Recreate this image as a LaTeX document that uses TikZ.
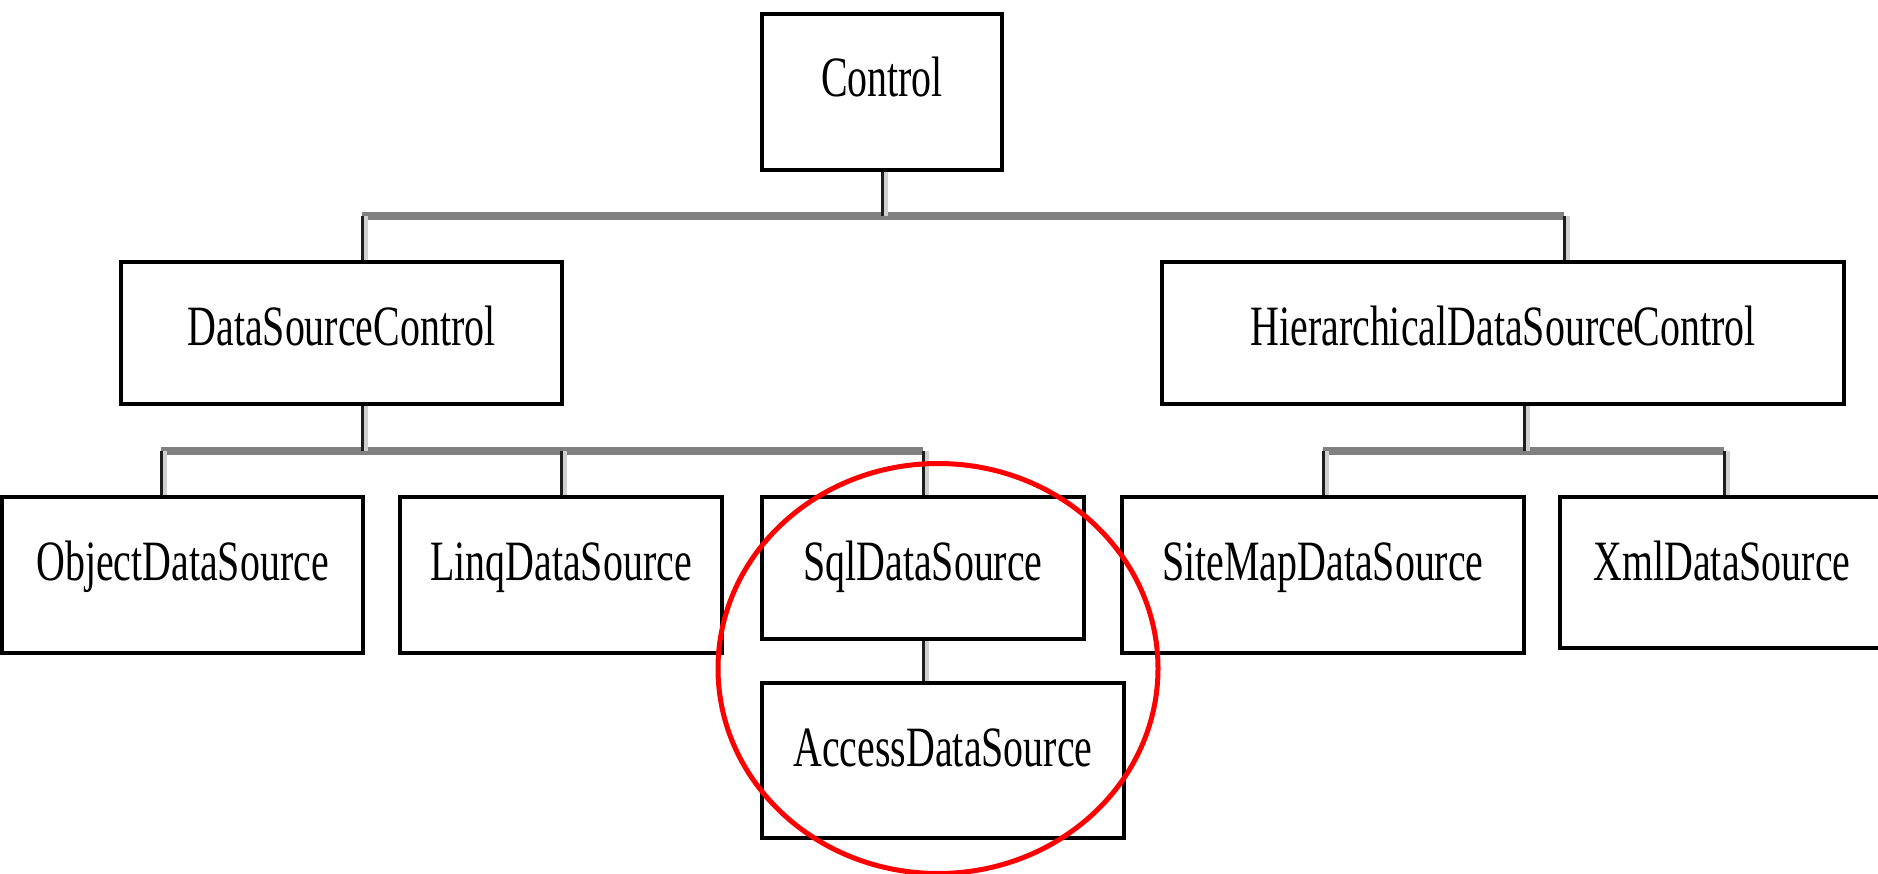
\documentclass[tikz,border=0pt]{standalone}
\usepackage{fontspec}
\setmainfont[FakeStretch=0.7]{Liberation Serif}
\definecolor{bargray}{HTML}{808080}
\definecolor{dropdark}{HTML}{1E1E1E}
\definecolor{dropshade}{HTML}{D0D0D0}
\tikzset{
  box/.style 2 args={draw, line width=4pt, fill=white, inner sep=0pt,
    font=\fontsize{57}{60}\selectfont, text height=38pt,
    minimum width=#1pt, minimum height=#2pt, text depth=#2pt-128pt},
  bar/.style={draw=bargray, line width=8pt},
  drop/.style={draw=dropdark, line width=3pt,
    preaction={draw=dropshade, line width=4pt, transform canvas={xshift=3.5pt}}},
  ring/.style={draw=red, line width=5pt}
}
\begin{document}
\begin{tikzpicture}[x=1pt, y=-1pt]
\useasboundingbox (0,0) rectangle (1878,874);
% class boxes
\node[box={240}{156}] (ctrl) at (882, 92) {Control};
\node[box={441}{142}] (dsc) at (341.5, 333) {DataSourceControl};
\node[box={682}{142}] (hdsc) at (1503, 333) {HierarchicalDataSourceControl};
\node[box={361}{156}] (ods) at (182.5, 575) {ObjectDataSource};
\node[box={322}{156}] (lds) at (561, 575) {LinqDataSource};
\node[box={322}{142}] (sqlds) at (923, 568) {SqlDataSource};
\node[box={362}{155}] (ads) at (943, 760.5) {AccessDataSource};
\node[box={402}{156}] (smds) at (1323, 575) {SiteMapDataSource};
\node[box={324}{151}] (xmlds) at (1722, 572.5) {XmlDataSource};
% bars
\coordinate (b1w) at (362, 216);
\coordinate (b1e) at (1564, 216);
\coordinate (b2w) at (161, 451);
\coordinate (b2e) at (923, 451);
\coordinate (b3w) at (1323, 451);
\coordinate (b3m) at (1524, 451);
\coordinate (b3e) at (1724, 451);
\draw[bar] (b1w) -- (b1e);
\draw[bar] (b2w) -- (b2e);
\draw[bar] (b3w) -- (b3e);
% drops
\draw[drop] (ctrl.south) -- (ctrl.south |- b1w);
\draw[drop] (b1w) -- (b1w |- dsc.north);
\draw[drop] (b1e) -- (b1e |- hdsc.north);
\draw[drop] (b1w |- dsc.south) -- (b1w |- b2w);
\draw[drop] (b2w) -- (b2w |- ods.north);
\draw[drop] (lds.north |- b2w) -- (lds.north);
\draw[drop] (b2e) -- (b2e |- sqlds.north);
\draw[drop] (sqlds.south) -- (sqlds.south |- ads.north);
\draw[drop] (b3m |- hdsc.south) -- (b3m);
\draw[drop] (smds.north |- b3w) -- (smds.north);
\draw[drop] (b3e) -- (b3e |- xmlds.north);
% highlight
\draw[ring] (938, 668.5) ellipse [x radius=220pt, y radius=205pt];
\end{tikzpicture}
\end{document}
